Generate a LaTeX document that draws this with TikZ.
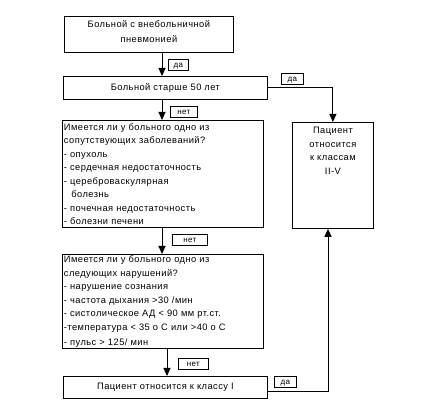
\documentclass[tikz,border=0pt]{standalone}
\usepackage{fontspec}
\setmainfont{Liberation Sans}
\newfontfamily\boxfont[LetterSpace=5]{Liberation Sans}
\usetikzlibrary{arrows.meta}

\begin{document}
\begin{tikzpicture}[x=1pt, y=-1pt,
        box/.style={draw, line width=0.8pt, anchor=north west, inner sep=1.5pt,
                    font=\boxfont\fontsize{9.3}{15}\selectfont},
        lbl/.style={draw, line width=0.6pt, anchor=north west, inner sep=1pt,
                    minimum height=11pt, text height=5.5pt, text depth=0pt, align=left,
                    font=\boxfont\fontsize{8}{8}\selectfont},
        arr/.style={line width=1pt, -{Triangle[width=7pt,length=8pt]}}]
    \useasboundingbox (0,0) rectangle (439,411);
    % boxes of the left column
    \node [box, minimum width=169pt, minimum height=36pt, align=center] (b1) at (64,16)
        {Больной с внебольничной\\пневмонией\\[-9pt]};
    \node [box, minimum width=204pt, minimum height=23pt] (b2) at (63,76)
        {Больной старше 50 лет};
    \node [box, minimum width=201pt, minimum height=107pt, text width=198pt, align=left,
           font=\boxfont\fontsize{9.3}{13.5}\selectfont] (b3) at (62,120)
        {Имеется ли у больного одно из\\сопутствующих заболеваний?\\- опухоль\\
         - сердечная недостаточность\\- цереброваскулярная\\\hspace*{0.8em}болезнь\\
         - почечная недостаточность\\- болезни печени};
    \node [box, minimum width=201pt, minimum height=93pt, text width=198pt, align=left,
           font=\boxfont\fontsize{9.3}{13.5}\selectfont] (b4) at (62,254)
        {Имеется ли у больного одно из\\следующих нарушений?\\- нарушение сознания\\
         - частота дыхания >30 /мин\\- систолическое АД < 90 мм рт.ст.\\
         -температура < 35 о С или >40 о С\\[1.5pt]- пульс > 125/ мин};
    \node [box, minimum width=204pt, minimum height=22pt] (b5) at (63,376)
        {Пациент относится к классу I};
    % box on the right
    \node [box, minimum width=81pt, minimum height=106pt] (cls) at (292,122) {};
    \node [anchor=north, align=center, font=\boxfont\fontsize{9.3}{13.5}\selectfont] (clstxt)
        at ([yshift=-2pt]cls.north) {Пациент\\относится\\к классам\\II-V};
    % labels
    \node [lbl, minimum width=20pt] (da1) at (168,59) {да};
    \node [lbl, minimum width=22pt] (da2) at (281,73) {да};
    \node [lbl, minimum width=27pt] (net1) at (170,106) {нет};
    \node [lbl, minimum width=35pt] (net2) at (172,234) {нет};
    \node [lbl, minimum width=30pt] (net3) at (178,358) {нет};
    \node [lbl, minimum width=22pt] (da3) at (274,376) {да};
    % connectors
    \coordinate (ax) at (162,0);
    \coordinate (bx) at (167,0);
    \coordinate (cx) at (328,0);
    \draw [arr] (b1.south -| ax) -- (b2.north -| ax);
    \draw [arr] (b2.south -| ax) -- (b3.north -| ax);
    \draw [arr] (b3.south -| ax) -- (b4.north -| ax);
    \draw [arr] (b4.south -| bx) -- (b5.north -| bx);
    \draw [arr] (b2.east) -| (cls.north);
    \draw [arr] ([yshift=-4pt]b5.east) -| (cls.south -| cx);
\end{tikzpicture}
\end{document}
